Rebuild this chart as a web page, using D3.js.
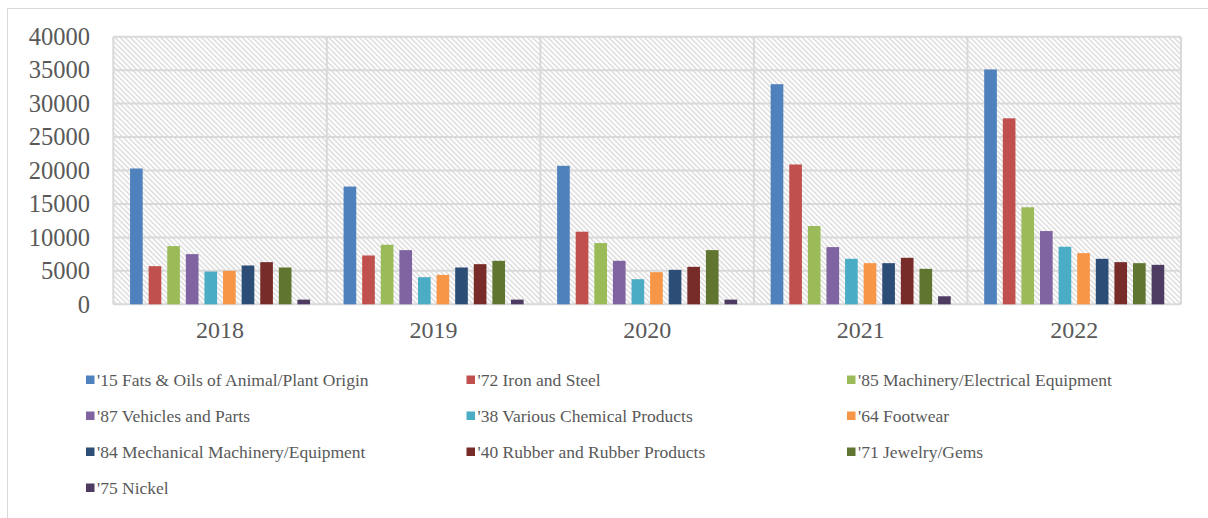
<!DOCTYPE html>
<html>
<head>
<meta charset="utf-8">
<script src="https://cdn.jsdelivr.net/npm/d3@7"></script>
<style>
  html, body { margin: 0; padding: 0; background: #fff; }
  svg { display: block; }
  text { font-family: "Liberation Serif", "DejaVu Serif", serif; fill: #595959; }
</style>
</head>
<body>
<svg id="chart" width="1208" height="518"></svg>
<script>
// Export value by HS product group, 2018–2022
const years = ["2018", "2019", "2020", "2021", "2022"];
const seriesNames = [
  "'15 Fats & Oils of Animal/Plant Origin",
  "'72 Iron and Steel",
  "'85 Machinery/Electrical Equipment",
  "'87 Vehicles and Parts",
  "'38 Various Chemical Products",
  "'64 Footwear",
  "'84 Mechanical Machinery/Equipment",
  "'40 Rubber and Rubber Products",
  "'71 Jewelry/Gems",
  "'75 Nickel"
];
const fatsOils    = [20300, 17600, 20700, 32900, 35100];
const ironSteel   = [5700, 7300, 10850, 20900, 27800];
const machElec    = [8700, 8900, 9150, 11700, 14500];
const vehicles    = [7500, 8100, 6500, 8550, 10950];
const chemicals   = [4900, 4050, 3750, 6800, 8600];
const footwear    = [5000, 4400, 4800, 6150, 7650];
const mechMach    = [5800, 5500, 5150, 6150, 6800];
const rubber      = [6300, 6000, 5600, 6950, 6300];
const jewelry     = [5500, 6500, 8100, 5300, 6150];
const nickel      = [700, 700, 700, 1200, 5900];
const yTicks = [0, 5000, 10000, 15000, 20000, 25000, 30000, 35000, 40000];

const seriesValues = [fatsOils, ironSteel, machElec, vehicles, chemicals,
                      footwear, mechMach, rubber, jewelry, nickel];
const colors = ["#4F81BD", "#C0504D", "#9BBB59", "#8064A2", "#4BACC6",
                "#F79646", "#2C4D75", "#772C2A", "#5F7530", "#4D3B62"];

const svg = d3.select("#chart");
const plot = { left: 113.3, right: 1181, top: 36.7, bottom: 304.3 };
const gridColor = "#d9d9d9";

// outer chart frame
svg.append("rect")
  .attr("x", 7.5).attr("y", 8.5)
  .attr("width", 1230).attr("height", 540)
  .attr("fill", "none").attr("stroke", gridColor).attr("stroke-width", 1);

// diagonal hatch fill for the plot background
const defs = svg.append("defs");
const pat = defs.append("pattern")
  .attr("id", "hatch")
  .attr("patternUnits", "userSpaceOnUse")
  .attr("width", 3.6).attr("height", 10)
  .attr("patternTransform", "rotate(-45)");
pat.append("rect").attr("width", 3.6).attr("height", 10).attr("fill", "#ffffff");
pat.append("rect").attr("width", 1.4).attr("height", 10).attr("fill", "#dadada");

const x0 = d3.scaleBand().domain(years).range([plot.left, plot.right]).padding(0);
const x1 = d3.scaleBand().domain(d3.range(seriesNames.length))
  .range([0, x0.bandwidth()]).paddingInner(0.32).paddingOuter(0.9);
const y = d3.scaleLinear().domain([0, 40000]).range([plot.bottom, plot.top]);

svg.append("rect")
  .attr("x", plot.left).attr("y", plot.top)
  .attr("width", plot.right - plot.left).attr("height", plot.bottom - plot.top)
  .attr("fill", "url(#hatch)");

// horizontal gridlines
svg.append("g").selectAll("line").data(yTicks).join("line")
  .attr("x1", plot.left).attr("x2", plot.right)
  .attr("y1", d => y(d)).attr("y2", d => y(d))
  .attr("stroke", gridColor).attr("stroke-width", 2);

// vertical category dividers
const edges = years.map(d => x0(d)).concat([plot.right]);
svg.append("g").selectAll("line").data(edges).join("line")
  .attr("x1", d => d).attr("x2", d => d)
  .attr("y1", plot.top).attr("y2", plot.bottom)
  .attr("stroke", gridColor).attr("stroke-width", 2);

// bars
const groups = svg.append("g").selectAll("g").data(seriesNames).join("g")
  .attr("fill", (d, i) => colors[i]);
groups.selectAll("rect")
  .data((d, i) => years.map((yr, j) => ({ yr, i, v: seriesValues[i][j] })))
  .join("rect")
  .attr("x", d => x0(d.yr) + x1(d.i))
  .attr("width", x1.bandwidth())
  .attr("y", d => y(d.v))
  .attr("height", d => y(0) - y(d.v));

// y axis labels
const yAxis = d3.axisLeft(y).tickValues(yTicks).tickSize(0).tickPadding(0)
  .tickFormat(d3.format("d"));
const gy = svg.append("g").attr("transform", "translate(90,0)").call(yAxis);
gy.select(".domain").remove();
gy.selectAll("text").attr("font-size", 24.5).attr("fill", "#595959")
  .attr("font-family", "Liberation Serif, serif");

// x axis labels
const xAxis = d3.axisBottom(x0).tickSize(0).tickPadding(0);
const gx = svg.append("g").attr("transform", "translate(0,321)").call(xAxis);
gx.select(".domain").remove();
gx.selectAll("text").attr("font-size", 24).attr("fill", "#595959")
  .attr("font-family", "Liberation Serif, serif");

// legend
const legendCols = 3;
const legend = svg.append("g").selectAll("g").data(seriesNames).join("g")
  .attr("transform", (d, i) => `translate(${86 + (i % legendCols) * 380.5},${380 + Math.floor(i / legendCols) * 36})`);
legend.append("rect")
  .attr("x", 0).attr("y", -4.5).attr("width", 8.5).attr("height", 8.5)
  .attr("fill", (d, i) => colors[i]);
legend.append("text")
  .attr("x", 11).attr("y", 0).attr("dy", "0.35em")
  .attr("font-size", 17.5)
  .text(d => d);
</script>
</body>
</html>
